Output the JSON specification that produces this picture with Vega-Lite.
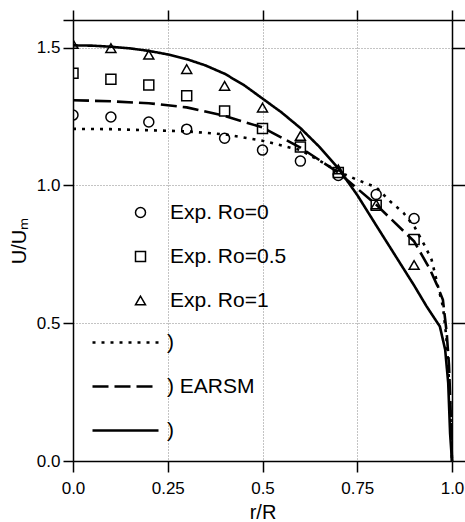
{
  "$schema": "https://vega.github.io/schema/vega-lite/v6.json",
  "width": 379,
  "height": 441,
  "autosize": "none",
  "padding": {"left": 73, "top": 20, "right": 13, "bottom": 61},
  "config": {
    "font": "Liberation Sans",
    "view": {"stroke": null},
    "axis": {
      "domainColor": "black", "tickColor": "black", "labelColor": "black", "titleColor": "black",
      "labelFont": "Liberation Sans", "titleFont": "Liberation Sans",
      "labelFontSize": 17, "titleFontSize": 20, "titleFontWeight": "normal",
      "domainWidth": 1.5, "tickWidth": 1.5, "labelFlush": false, "labelOverlap": false
    },
    "legend": {"labelFont": "Liberation Sans", "labelColor": "black", "labelFontSize": 21, "labelLimit": 0, "padding": 0, "symbolOpacity": 1}
  },
  "datasets": {
    "model": [
      {"r": 0, "U": 1.205, "model": "EARSM Ro=0"},
      {"r": 0.1, "U": 1.204, "model": "EARSM Ro=0"},
      {"r": 0.2, "U": 1.2, "model": "EARSM Ro=0"},
      {"r": 0.3, "U": 1.196, "model": "EARSM Ro=0"},
      {"r": 0.4, "U": 1.185, "model": "EARSM Ro=0"},
      {"r": 0.5, "U": 1.162, "model": "EARSM Ro=0"},
      {"r": 0.6, "U": 1.128, "model": "EARSM Ro=0"},
      {"r": 0.65, "U": 1.09, "model": "EARSM Ro=0"},
      {"r": 0.7, "U": 1.05, "model": "EARSM Ro=0"},
      {"r": 0.75, "U": 1.02, "model": "EARSM Ro=0"},
      {"r": 0.8, "U": 0.993, "model": "EARSM Ro=0"},
      {"r": 0.836, "U": 0.943, "model": "EARSM Ro=0"},
      {"r": 0.872, "U": 0.9, "model": "EARSM Ro=0"},
      {"r": 0.902, "U": 0.847, "model": "EARSM Ro=0"},
      {"r": 0.929, "U": 0.779, "model": "EARSM Ro=0"},
      {"r": 0.946, "U": 0.731, "model": "EARSM Ro=0"},
      {"r": 0.963, "U": 0.634, "model": "EARSM Ro=0"},
      {"r": 0.976, "U": 0.561, "model": "EARSM Ro=0"},
      {"r": 0.985, "U": 0.45, "model": "EARSM Ro=0"},
      {"r": 0.99, "U": 0.35, "model": "EARSM Ro=0"},
      {"r": 0.995, "U": 0.2, "model": "EARSM Ro=0"},
      {"r": 1.0, "U": 0, "model": "EARSM Ro=0"},
      {"r": 0, "U": 1.309, "model": "EARSM Ro=0.5"},
      {"r": 0.1, "U": 1.305, "model": "EARSM Ro=0.5"},
      {"r": 0.2, "U": 1.298, "model": "EARSM Ro=0.5"},
      {"r": 0.3, "U": 1.283, "model": "EARSM Ro=0.5"},
      {"r": 0.4, "U": 1.252, "model": "EARSM Ro=0.5"},
      {"r": 0.5, "U": 1.21, "model": "EARSM Ro=0.5"},
      {"r": 0.6, "U": 1.137, "model": "EARSM Ro=0.5"},
      {"r": 0.7, "U": 1.047, "model": "EARSM Ro=0.5"},
      {"r": 0.8, "U": 0.93, "model": "EARSM Ro=0.5"},
      {"r": 0.9, "U": 0.797, "model": "EARSM Ro=0.5"},
      {"r": 0.942, "U": 0.695, "model": "EARSM Ro=0.5"},
      {"r": 0.96, "U": 0.64, "model": "EARSM Ro=0.5"},
      {"r": 0.976, "U": 0.585, "model": "EARSM Ro=0.5"},
      {"r": 0.986, "U": 0.465, "model": "EARSM Ro=0.5"},
      {"r": 0.992, "U": 0.35, "model": "EARSM Ro=0.5"},
      {"r": 0.996, "U": 0.2, "model": "EARSM Ro=0.5"},
      {"r": 1.0, "U": 0, "model": "EARSM Ro=0.5"},
      {"r": 0, "U": 1.508, "model": "EARSM Ro=1"},
      {"r": 0.05, "U": 1.507, "model": "EARSM Ro=1"},
      {"r": 0.1, "U": 1.503, "model": "EARSM Ro=1"},
      {"r": 0.15, "U": 1.497, "model": "EARSM Ro=1"},
      {"r": 0.2, "U": 1.488, "model": "EARSM Ro=1"},
      {"r": 0.25, "U": 1.475, "model": "EARSM Ro=1"},
      {"r": 0.3, "U": 1.458, "model": "EARSM Ro=1"},
      {"r": 0.35, "U": 1.435, "model": "EARSM Ro=1"},
      {"r": 0.4, "U": 1.405, "model": "EARSM Ro=1"},
      {"r": 0.45, "U": 1.365, "model": "EARSM Ro=1"},
      {"r": 0.5, "U": 1.315, "model": "EARSM Ro=1"},
      {"r": 0.55, "U": 1.265, "model": "EARSM Ro=1"},
      {"r": 0.6, "U": 1.208, "model": "EARSM Ro=1"},
      {"r": 0.65, "U": 1.14, "model": "EARSM Ro=1"},
      {"r": 0.7, "U": 1.062, "model": "EARSM Ro=1"},
      {"r": 0.75, "U": 0.965, "model": "EARSM Ro=1"},
      {"r": 0.8, "U": 0.855, "model": "EARSM Ro=1"},
      {"r": 0.85, "U": 0.746, "model": "EARSM Ro=1"},
      {"r": 0.9, "U": 0.637, "model": "EARSM Ro=1"},
      {"r": 0.933, "U": 0.561, "model": "EARSM Ro=1"},
      {"r": 0.955, "U": 0.515, "model": "EARSM Ro=1"},
      {"r": 0.968, "U": 0.488, "model": "EARSM Ro=1"},
      {"r": 0.982, "U": 0.404, "model": "EARSM Ro=1"},
      {"r": 0.99, "U": 0.283, "model": "EARSM Ro=1"},
      {"r": 0.995, "U": 0.1, "model": "EARSM Ro=1"},
      {"r": 1.0, "U": 0, "model": "EARSM Ro=1"}
    ],
    "exp": [
      {"r": 0, "U": 1.255, "case": "Exp. Ro=0"},
      {"r": 0.1, "U": 1.248, "case": "Exp. Ro=0"},
      {"r": 0.2, "U": 1.23, "case": "Exp. Ro=0"},
      {"r": 0.3, "U": 1.204, "case": "Exp. Ro=0"},
      {"r": 0.4, "U": 1.171, "case": "Exp. Ro=0"},
      {"r": 0.5, "U": 1.128, "case": "Exp. Ro=0"},
      {"r": 0.6, "U": 1.088, "case": "Exp. Ro=0"},
      {"r": 0.7, "U": 1.036, "case": "Exp. Ro=0"},
      {"r": 0.8, "U": 0.967, "case": "Exp. Ro=0"},
      {"r": 0.9, "U": 0.88, "case": "Exp. Ro=0"},
      {"r": 0, "U": 1.407, "case": "Exp. Ro=0.5"},
      {"r": 0.1, "U": 1.385, "case": "Exp. Ro=0.5"},
      {"r": 0.2, "U": 1.364, "case": "Exp. Ro=0.5"},
      {"r": 0.3, "U": 1.325, "case": "Exp. Ro=0.5"},
      {"r": 0.4, "U": 1.27, "case": "Exp. Ro=0.5"},
      {"r": 0.5, "U": 1.206, "case": "Exp. Ro=0.5"},
      {"r": 0.6, "U": 1.139, "case": "Exp. Ro=0.5"},
      {"r": 0.7, "U": 1.047, "case": "Exp. Ro=0.5"},
      {"r": 0.8, "U": 0.928, "case": "Exp. Ro=0.5"},
      {"r": 0.9, "U": 0.804, "case": "Exp. Ro=0.5"},
      {"r": 0, "U": 1.513, "case": "Exp. Ro=1"},
      {"r": 0.1, "U": 1.498, "case": "Exp. Ro=1"},
      {"r": 0.2, "U": 1.474, "case": "Exp. Ro=1"},
      {"r": 0.3, "U": 1.422, "case": "Exp. Ro=1"},
      {"r": 0.4, "U": 1.361, "case": "Exp. Ro=1"},
      {"r": 0.5, "U": 1.282, "case": "Exp. Ro=1"},
      {"r": 0.6, "U": 1.179, "case": "Exp. Ro=1"},
      {"r": 0.7, "U": 1.058, "case": "Exp. Ro=1"},
      {"r": 0.8, "U": 0.931, "case": "Exp. Ro=1"},
      {"r": 0.9, "U": 0.711, "case": "Exp. Ro=1"}
    ]
  },
  "layer": [
    {
      "data": {"name": "model"},
      "mark": {"type": "line", "color": "black", "strokeWidth": 2.6, "strokeCap": "butt"},
      "encoding": {
        "x": {
          "field": "r", "type": "quantitative", "scale": {"domain": [0, 1], "nice": false},
          "axis": {
            "orient": "bottom", "values": [0, 0.25, 0.5, 0.75, 1],
            "labelExpr": "datum.value == 0 ? '0.0' : datum.value == 1 ? '1.0' : toString(datum.value)",
            "title": "r/R", "grid": true, "gridDash": [1, 2], "gridColor": "#888", "gridWidth": 1,
            "tickSize": 11, "labelPadding": 8, "titlePadding": 6
          }
        },
        "y": {
          "field": "U", "type": "quantitative", "scale": {"domain": [0, 1.6], "nice": false},
          "axis": {
            "orient": "left", "values": [0, 0.5, 1, 1.5, 1.6],
            "labelExpr": "datum.value > 1.55 ? '' : format(datum.value, '.1f')",
            "title": "U/Uₘ", "grid": true, "gridDash": [1, 2], "gridColor": "#888", "gridWidth": 1,
            "tickSize": 10, "labelPadding": 3, "titlePadding": 7
          }
        },
        "strokeDash": {
          "field": "model", "type": "nominal",
          "scale": {"domain": ["EARSM Ro=0", "EARSM Ro=0.5", "EARSM Ro=1"], "range": [[3, 6], [16, 6], [1, 0]]},
          "legend": {
            "orient": "none", "legendX": 40, "legendY": 310, "title": null,
            "symbolType": "M-3,0H3", "symbolSize": 484, "symbolStrokeWidth": 2.6, "symbolStrokeColor": "black",
            "rowPadding": 21, "labelOffset": 29,
            "labelExpr": "datum.label == 'EARSM Ro=0.5' ? ') EARSM' : ')'"
          }
        }
      }
    },
    {
      "data": {"name": "exp"},
      "mark": {"type": "point", "filled": false, "color": "black", "opacity": 1, "size": 100, "strokeWidth": 1.5, "clip": true},
      "encoding": {
        "x": {
          "field": "r", "type": "quantitative",
          "axis": {"orient": "top", "values": [0, 0.25, 0.5, 0.75, 1], "labels": false, "title": null, "grid": false, "tickSize": 10}
        },
        "y": {
          "field": "U", "type": "quantitative",
          "axis": {"orient": "right", "values": [0, 0.5, 1, 1.5, 1.6], "labels": false, "title": null, "grid": false, "tickSize": 13}
        },
        "shape": {
          "field": "case", "type": "nominal",
          "scale": {"domain": ["Exp. Ro=0", "Exp. Ro=0.5", "Exp. Ro=1"], "range": ["circle", "square", "triangle-up"]},
          "legend": {
            "orient": "none", "legendX": 57, "legendY": 182, "title": null,
            "symbolSize": 100, "symbolStrokeColor": "black", "symbolStrokeWidth": 1.5,
            "rowPadding": 22, "labelOffset": 19
          }
        }
      }
    }
  ],
  "resolve": {"axis": {"x": "independent", "y": "independent"}}
}
